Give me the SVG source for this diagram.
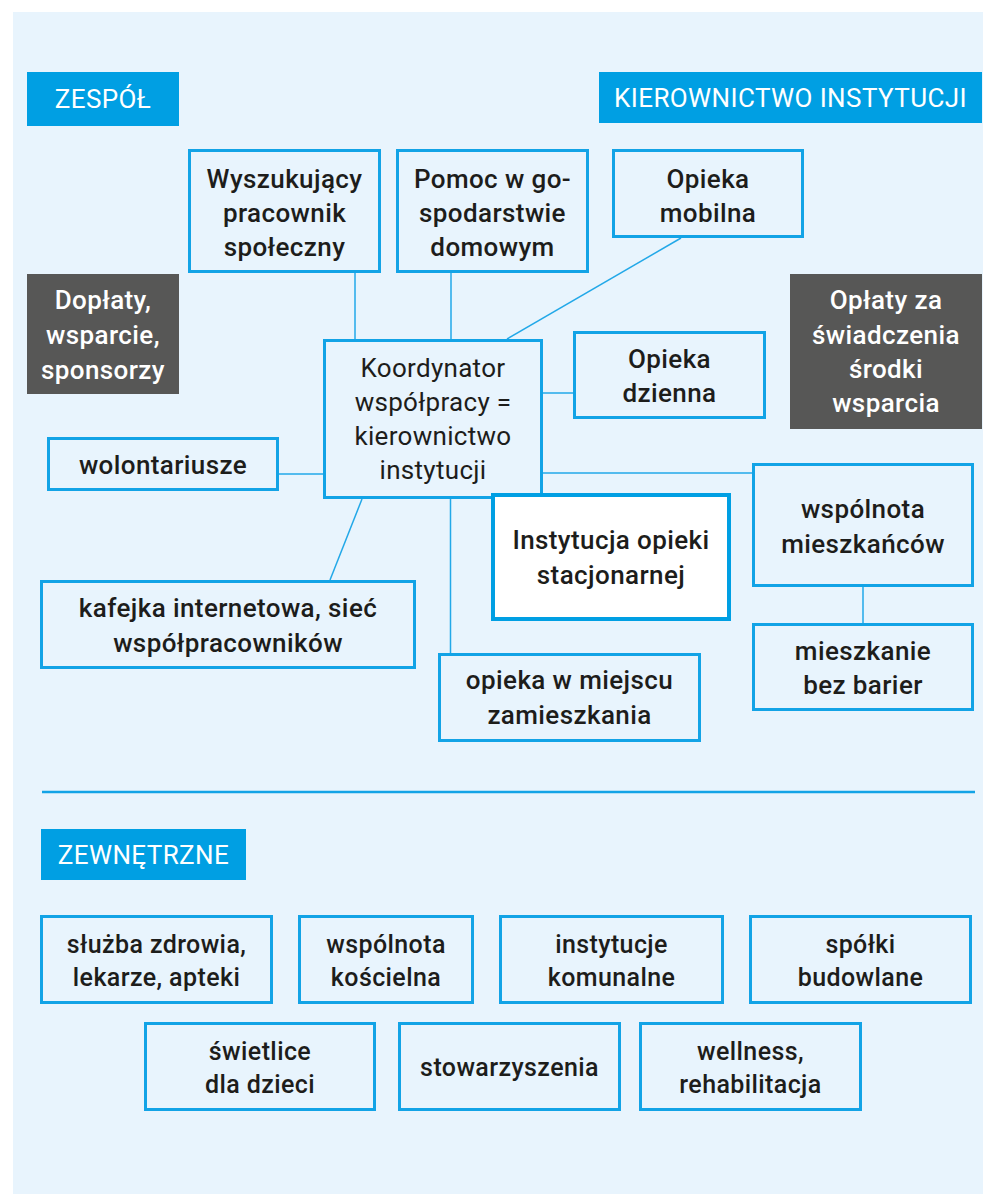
<svg xmlns="http://www.w3.org/2000/svg" width="985" height="1194" viewBox="0 0 985 1194">
  <style>
    .panel { fill: #e8f4fd; }
    .box { fill: none; stroke: #12a3e6; stroke-width: 3; }
    .main { fill: #ffffff; stroke: #009fe3; stroke-width: 4; }
    .head { fill: #009fe3; }
    .dark { fill: #575756; }
    .t { font-family: Roboto, "Liberation Sans", sans-serif; font-size: 26px; font-weight: 500; letter-spacing: 0.4px; fill: #1d1d1b; text-anchor: middle; }
    .tl { font-family: Roboto, "Liberation Sans", sans-serif; font-size: 26px; font-weight: 400; letter-spacing: 0.3px; fill: #1d1d1b; text-anchor: middle; }
    .ts { font-family: Roboto, "Liberation Sans", sans-serif; font-size: 25px; font-weight: 500; letter-spacing: 0.4px; fill: #1d1d1b; text-anchor: middle; }
    .th { font-family: Roboto, "Liberation Sans", sans-serif; font-size: 26px; font-weight: 400; letter-spacing: 0.4px; fill: #ffffff; text-anchor: middle; }
    .tw { font-family: Roboto, "Liberation Sans", sans-serif; font-size: 26px; font-weight: 500; letter-spacing: 0.4px; fill: #ffffff; text-anchor: middle; }
    .link { stroke: #22a8e8; stroke-width: 1.5; fill: none; }
    .rule { stroke: #12a3e6; stroke-width: 2.5; }
  </style>

  <rect class="panel" x="13" y="12" width="970" height="1182"/>

  <!-- connectors -->
  <g id="connectors">
    <line class="link" x1="355" y1="273" x2="355" y2="339"/>
    <line class="link" x1="451" y1="273" x2="451" y2="339"/>
    <line class="link" x1="507" y1="339" x2="681" y2="238"/>
    <line class="link" x1="543" y1="393" x2="573" y2="393"/>
    <line class="link" x1="279" y1="474" x2="323" y2="474"/>
    <line class="link" x1="362" y1="499" x2="330" y2="580"/>
    <line class="link" x1="450.5" y1="499" x2="450.5" y2="653"/>
    <line class="link" x1="543" y1="473" x2="752" y2="473"/>
    <line class="link" x1="863" y1="587" x2="863" y2="623"/>
  </g>

  <!-- section headers -->
  <g id="zespol">
    <rect class="head" x="27" y="72" width="152" height="54"/>
    <text class="th" x="103" y="108">ZESPÓŁ</text>
  </g>
  <g id="kierownictwo">
    <rect class="head" x="599" y="72" width="383" height="51"/>
    <text class="th" x="790.5" y="107">KIEROWNICTWO INSTYTUCJI</text>
  </g>

  <!-- team nodes -->
  <g id="wyszukujacy">
    <rect class="box" x="189.5" y="150.5" width="190" height="121"/>
    <text class="t" x="284.5" y="188">Wyszukujący</text>
    <text class="t" x="284.5" y="222">pracownik</text>
    <text class="t" x="284.5" y="256">społeczny</text>
  </g>
  <g id="pomoc">
    <rect class="box" x="397.5" y="150.5" width="190" height="121"/>
    <text class="t" x="492.5" y="188">Pomoc w go-</text>
    <text class="t" x="492.5" y="222">spodarstwie</text>
    <text class="t" x="492.5" y="256">domowym</text>
  </g>
  <g id="opieka-mobilna">
    <rect class="box" x="613.5" y="150.5" width="189" height="86"/>
    <text class="t" x="708" y="188">Opieka</text>
    <text class="t" x="708" y="222">mobilna</text>
  </g>
  <g id="doplaty">
    <rect class="dark" x="27" y="274" width="152" height="120"/>
    <text class="tw" x="103" y="309">Dopłaty,</text>
    <text class="tw" x="103" y="344">wsparcie,</text>
    <text class="tw" x="103" y="379">sponsorzy</text>
  </g>
  <g id="oplaty">
    <rect class="dark" x="790" y="274" width="192" height="155"/>
    <text class="tw" x="886" y="309">Opłaty za</text>
    <text class="tw" x="886" y="344">świadczenia</text>
    <text class="tw" x="886" y="378">środki</text>
    <text class="tw" x="886" y="412">wsparcia</text>
  </g>
  <g id="koordynator">
    <rect class="box" x="324.5" y="340.5" width="217" height="157"/>
    <text class="tl" x="433" y="377">Koordynator</text>
    <text class="tl" x="433" y="411">współpracy =</text>
    <text class="tl" x="433" y="445">kierownictwo</text>
    <text class="tl" x="433" y="479">instytucji</text>
  </g>
  <g id="opieka-dzienna">
    <rect class="box" x="574.5" y="332.5" width="190" height="85"/>
    <text class="t" x="669.5" y="368">Opieka</text>
    <text class="t" x="669.5" y="402">dzienna</text>
  </g>
  <g id="wolontariusze">
    <rect class="box" x="48.5" y="438.5" width="229" height="51"/>
    <text class="t" x="163" y="474">wolontariusze</text>
  </g>
  <g id="kafejka">
    <rect class="box" x="41.5" y="581.5" width="373" height="86"/>
    <text class="t" x="228" y="617">kafejka internetowa, sieć</text>
    <text class="t" x="228" y="652">współpracowników</text>
  </g>
  <g id="instytucja">
    <rect class="main" x="493" y="495" width="236" height="124"/>
    <text class="t" x="611" y="549">Instytucja opieki</text>
    <text class="t" x="611" y="584">stacjonarnej</text>
  </g>
  <g id="wspolnota-mieszkancow">
    <rect class="box" x="753.5" y="464.5" width="219" height="121"/>
    <text class="t" x="863" y="518">wspólnota</text>
    <text class="t" x="863" y="553">mieszkańców</text>
  </g>
  <g id="mieszkanie">
    <rect class="box" x="753.5" y="624.5" width="219" height="85"/>
    <text class="t" x="863" y="660">mieszkanie</text>
    <text class="t" x="863" y="694">bez barier</text>
  </g>
  <g id="opieka-w-miejscu">
    <rect class="box" x="439.5" y="654.5" width="260" height="86"/>
    <text class="t" x="569.5" y="689">opieka w miejscu</text>
    <text class="t" x="569.5" y="724">zamieszkania</text>
  </g>

  <!-- divider between internal and external partners -->
  <line class="rule" x1="42" y1="792" x2="975" y2="792"/>

  <!-- external partners -->
  <g id="zewnetrzne">
    <rect class="head" x="41" y="829" width="205" height="51"/>
    <text class="th" x="143.5" y="864">ZEWNĘTRZNE</text>
  </g>
  <g id="sluzba-zdrowia">
    <rect class="box" x="41.5" y="916.5" width="230" height="86"/>
    <text class="ts" x="156.5" y="953">służba zdrowia,</text>
    <text class="ts" x="156.5" y="986">lekarze, apteki</text>
  </g>
  <g id="wspolnota-koscielna">
    <rect class="box" x="299.5" y="916.5" width="173" height="86"/>
    <text class="ts" x="386" y="953">wspólnota</text>
    <text class="ts" x="386" y="986">kościelna</text>
  </g>
  <g id="instytucje-komunalne">
    <rect class="box" x="500.5" y="916.5" width="222" height="86"/>
    <text class="ts" x="611.5" y="953">instytucje</text>
    <text class="ts" x="611.5" y="986">komunalne</text>
  </g>
  <g id="spolki-budowlane">
    <rect class="box" x="750.5" y="916.5" width="220" height="86"/>
    <text class="ts" x="860.5" y="953">spółki</text>
    <text class="ts" x="860.5" y="986">budowlane</text>
  </g>
  <g id="swietlice">
    <rect class="box" x="145.5" y="1023.5" width="229" height="86"/>
    <text class="ts" x="260" y="1060">świetlice</text>
    <text class="ts" x="260" y="1093">dla dzieci</text>
  </g>
  <g id="stowarzyszenia">
    <rect class="box" x="399.5" y="1023.5" width="220" height="86"/>
    <text class="ts" x="509.5" y="1076">stowarzyszenia</text>
  </g>
  <g id="wellness">
    <rect class="box" x="640.5" y="1023.5" width="220" height="86"/>
    <text class="ts" x="750.5" y="1060">wellness,</text>
    <text class="ts" x="750.5" y="1093">rehabilitacja</text>
  </g>
</svg>
